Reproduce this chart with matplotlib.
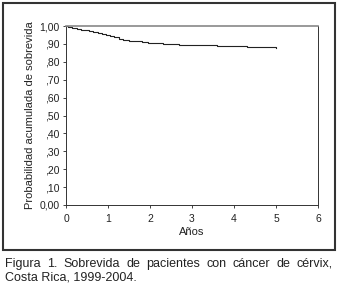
import matplotlib
matplotlib.use("Agg")
import matplotlib.pyplot as plt
from matplotlib.patches import Rectangle

# Survival curve (years, cumulative survival probability)
years = [0, 0.05, 0.15, 0.25, 0.35, 0.45, 0.55, 0.65, 0.75, 0.85, 0.95, 1.05, 1.15, 1.25, 1.35,
         1.5, 1.65, 1.8, 1.95, 2.1, 2.3, 2.5, 2.7, 3.0, 3.3, 3.6, 3.8, 4.0, 4.3, 4.6, 4.8, 5.0]
surv = [1.0, 0.993, 0.988, 0.983, 0.979, 0.975, 0.971, 0.966, 0.962, 0.957, 0.952, 0.946, 0.938,
        0.930, 0.923, 0.918, 0.914, 0.911, 0.907, 0.903, 0.900, 0.897, 0.895, 0.894, 0.893,
        0.891, 0.888, 0.886, 0.885, 0.883, 0.880, 0.878]
yticks = [0.0, 0.1, 0.2, 0.3, 0.4, 0.5, 0.6, 0.7, 0.8, 0.9, 1.0]
ytick_labels = ["0,00", ",10", ",20", ",30", ",40", ",50", ",60", ",70", ",80", ",90", "1,00"]
xticks = [0, 1, 2, 3, 4, 5, 6]
caption1 = "Figura 1. Sobrevida de pacientes con cáncer de cérvix,"
caption2 = "Costa Rica, 1999-2004."

W, H = 341, 287
fig = plt.figure(figsize=(W / 100, H / 100), dpi=100)
fig.patch.set_facecolor("white")
plt.rcParams['font.family'] = ['Liberation Sans', 'DejaVu Sans']

# outer frame
fig.patches.append(Rectangle((3 / W, 1 - 250 / H), 332 / W, 247 / H, transform=fig.transFigure,
                             fill=False, edgecolor="#333333", linewidth=1.5))

ax = fig.add_axes([66 / W, 1 - 205 / H, 252 / W, 179 / H])
ax.step(years, surv, where="post", color="#222222", linewidth=0.8)
ax.set_xlim(0, 6)
ax.set_ylim(0, 1.0)
ax.set_yticks(yticks)
ax.set_yticklabels(ytick_labels)
ax.set_xticks(xticks)
ax.tick_params(labelsize=7.5, length=2.5, width=0.6, colors="#222222", pad=2)
ax.tick_params(axis="x", pad=4)
for s in ax.spines.values():
    s.set_linewidth(0.7)
    s.set_color("#333333")
ax.spines["right"].set_linestyle((0, (1, 1)))
ax.spines["top"].set_color("#888888")
ax.spines["top"].set_linewidth(1.2)
ax.set_xlabel("Años", fontsize=8, color="#222222", labelpad=2)
ax.set_ylabel("Probabilidad acumulada de sobrevida", fontsize=8, color="#222222", labelpad=3)

# justified first caption line
fig.canvas.draw()
renderer = fig.canvas.get_renderer()
words = caption1.split(" ")
x0, x1 = 5, 333
texts = []
total = 0
for w in words:
    t = fig.text(0, 1 - 264 / H, w, fontsize=9, color="#222222", va="center", ha="left")
    bb = t.get_window_extent(renderer=renderer)
    texts.append((t, bb.width))
    total += bb.width
gap = (x1 - x0 - total) / (len(words) - 1)
x = x0
for t, wd in texts:
    t.set_x(x / W)
    x += wd + gap
fig.text(5 / W, 1 - 278 / H, caption2, fontsize=9, color="#222222", va="center", ha="left")

fig.savefig("out.png", dpi=100)
